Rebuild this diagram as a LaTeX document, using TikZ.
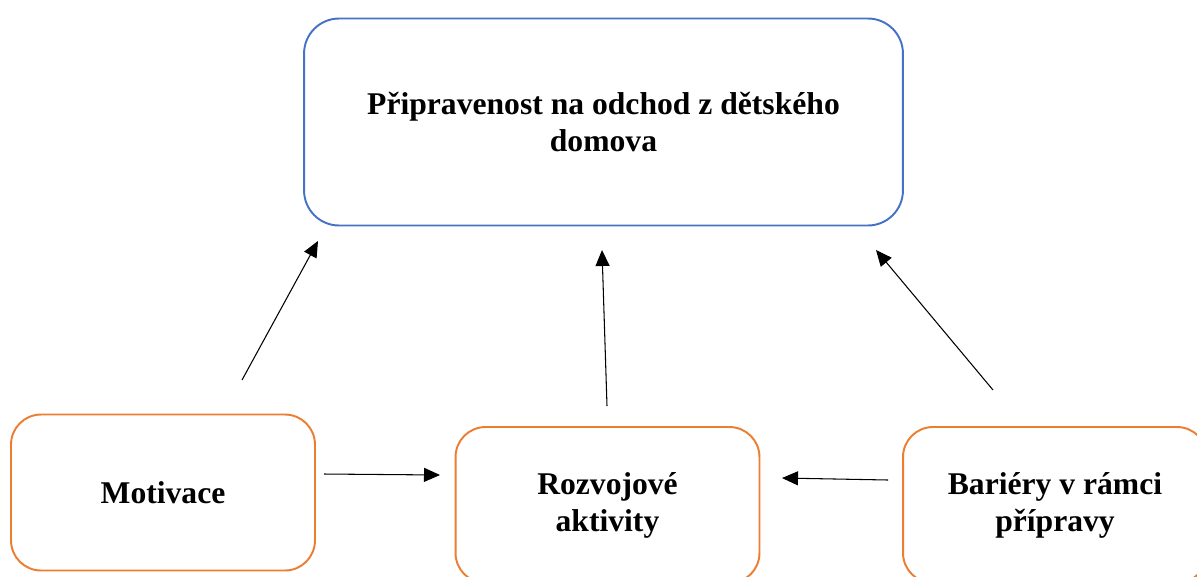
\documentclass[tikz,border=0pt]{standalone}
\usepackage{fontspec}
\setmainfont{Liberation Serif}
\usepackage{tikz}
\usetikzlibrary{arrows.meta,positioning}
\definecolor{boxblue}{RGB}{68,114,196}
\definecolor{boxorange}{RGB}{237,125,49}
\tikzstyle{goal}=[shape=rectangle,draw=boxblue,line width=1.1pt,rounded corners=0.7cm,minimum width=11.98cm,minimum height=4.14cm,align=center,font=\bfseries\fontsize{18}{21}\selectfont]
\tikzstyle{factor}=[shape=rectangle,draw=boxorange,line width=1.1pt,rounded corners=0.6cm,minimum width=6.08cm,minimum height=3.12cm,align=center,font=\bfseries\fontsize{18}{21}\selectfont]
\tikzstyle{link}=[-{Triangle[length=0.32cm,width=0.28cm]},line width=0.6pt,black]

\begin{document}
\begin{tikzpicture}[x=0.02cm,y=-0.02cm]
\useasboundingbox (0,0) rectangle (1197,576);
\clip (0,0) rectangle (1197,576);

\node[goal] (ready) at (603.5,122) {Připravenost na odchod z dětského\\domova};

\node[factor] (motiv) at (163,492.5) {Motivace};
\node[factor] (devel) at (607.5,505) {Rozvojové\\aktivity};
\node[factor] (barr) at (1055,505) {Bariéry v rámci\\přípravy};

% free ends of the arrows
\coordinate (motiv-up) at (242,380);
\coordinate (motiv-in) at (318,241);
\coordinate (devel-up) at (607,406);
\coordinate (devel-in) at (602,250);
\coordinate (barr-up) at (993,390);
\coordinate (barr-in) at (876,250);
\coordinate (motiv-out) at (324,474);
\coordinate (devel-left) at (440,475);
\coordinate (barr-out) at (888,480);
\coordinate (devel-right) at (782,478);

\path
(motiv-up) edge [link] (motiv-in)
(devel-up) edge [link] (devel-in)
(barr-up) edge [link] (barr-in)
(motiv-out) edge [link] (devel-left)
(barr-out) edge [link] (devel-right);

\end{tikzpicture}
\end{document}
